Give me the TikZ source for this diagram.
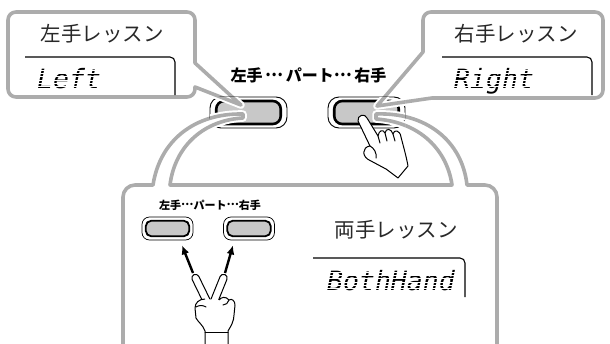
\documentclass[tikz,border=0pt]{standalone}
\usepackage{fontspec}
\usetikzlibrary{arrows.meta}
\newfontfamily\jpfont{Noto Sans CJK JP}
\newfontfamily\lcdfont{DejaVu Sans Mono}
\definecolor{framegray}{RGB}{172,172,172}
\definecolor{keygray}{RGB}{200,200,200}
\definecolor{inkgray}{RGB}{40,40,40}
% centred ellipsis between the part names
\newcommand\partdots{\raisebox{0.3em}{…}}

\begin{document}
\begin{tikzpicture}[x=1pt,y=1pt,
  frame/.style={draw=framegray,line width=3.6pt,line join=round},
  halo/.style={draw=white,line width=7.5pt,line join=round},
  lcdframe/.style={draw=black,line width=1.1pt,rounded corners=5pt},
  keyring/.style={draw=black,line width=0.9pt,fill=white,rounded corners=11pt,
    minimum width=77pt,minimum height=31pt,inner sep=0pt},
  keycap/.style={draw=black,line width=2.6pt,fill=keygray,rounded corners=8pt,
    minimum width=64.5pt,minimum height=23pt,inner sep=0pt},
  smallring/.style={draw=black,line width=0.7pt,fill=white,rounded corners=7.5pt,
    minimum width=51pt,minimum height=23pt,inner sep=0pt},
  smallcap/.style={draw=black,line width=1.8pt,fill=keygray,rounded corners=5.5pt,
    minimum width=43.5pt,minimum height=15.5pt,inner sep=0pt},
  title/.style={font=\jpfont\fontsize{20.5}{24}\selectfont,text=inkgray,inner sep=0pt},
  partlabel/.style={font=\jpfont\bfseries\fontsize{16}{19}\selectfont,inner sep=0pt},
  smalllabel/.style={font=\jpfont\bfseries\fontsize{11}{13}\selectfont,inner sep=0pt},
  lcd/.style={font=\lcdfont\itshape\fontsize{26.5}{30}\selectfont,text=black,
    inner sep=0pt,anchor=base west},
  dotgrid/.style={draw=white,line width=0.6pt},
  arr/.style={draw=black,line width=2.4pt,-{Latex[length=9pt,width=8pt]}},
  hand/.style={draw=black,line width=1pt,fill=white,line join=round},
  handline/.style={draw=black,line width=1pt,line cap=round}
]
\useasboundingbox (0,0) rectangle (610,-343);
\clip (0,0) rectangle (610,-343);

% lower panel, opening upward into both keys
\path[frame,fill=white]
  (123,-360) -- (123,-197) arc[start angle=180,end angle=90,radius=12]
  -- (153,-185) .. controls (160,-140) and (195,-113) .. (243,-114)
  -- (243,-118) .. controls (205,-120) and (175,-145) .. (170,-185)
  -- (452,-185) .. controls (447,-150) and (420,-122) .. (376,-119)
  -- (376,-114) .. controls (425,-112) and (462,-140) .. (467,-185)
  -- (485,-185) arc[start angle=90,end angle=0,radius=12] -- (497,-360);

% left-hand callout
\path[frame,fill=white]
  (16,-12) -- (187,-12) arc[start angle=90,end angle=0,radius=8]
  -- (195,-63) -- (241,-105) -- (195,-87)
  -- (195,-89) arc[start angle=0,end angle=-90,radius=8]
  -- (16,-97) arc[start angle=270,end angle=180,radius=8]
  -- (8,-20) arc[start angle=180,end angle=90,radius=8] -- cycle;

% right-hand callout
\path[frame,fill=white]
  (431,-12) -- (595,-12) arc[start angle=90,end angle=0,radius=8]
  -- (603,-90) arc[start angle=0,end angle=-90,radius=8]
  -- (432,-98) -- (377,-106) -- (423,-52)
  -- (423,-20) arc[start angle=180,end angle=90,radius=8] -- cycle;

% part keys
\node[keyring] (ringL) at (248.5,-112.5) {};
\node[keycap]  (keyL)  at (248.5,-112.5) {};
\node[keyring] (ringR) at (366.5,-112.5) {};
\node[keycap]  (keyR)  at (366.5,-112.5) {};

% pointer lines laid over the keys
\begin{scope}
  \clip (210,-97) rectangle (287,-128);
  \path[halo] (195,-63) -- (241,-105) -- (195,-87);
  \path[halo] (153,-185) .. controls (160,-140) and (195,-113) .. (243,-114)
     -- (243,-118) .. controls (205,-120) and (175,-145) .. (170,-185);
  \path[frame] (195,-63) -- (241,-105) -- (195,-87);
  \path[frame] (153,-185) .. controls (160,-140) and (195,-113) .. (243,-114)
     -- (243,-118) .. controls (205,-120) and (175,-145) .. (170,-185);
\end{scope}
\begin{scope}
  \clip (328,-97) rectangle (405,-128);
  \path[halo] (432,-98) -- (377,-106) -- (423,-52);
  \path[halo] (452,-185) .. controls (447,-150) and (420,-122) .. (376,-119)
     -- (376,-114) .. controls (425,-112) and (462,-140) .. (467,-185);
  \path[frame] (432,-98) -- (377,-106) -- (423,-52);
  \path[frame] (452,-185) .. controls (447,-150) and (420,-122) .. (376,-119)
     -- (376,-114) .. controls (425,-112) and (462,-140) .. (467,-185);
\end{scope}

% pointing hand pressing the right key
\path[hand]
  (386,-169) -- (398,-178) -- (408,-166)
  .. controls (406,-155) and (403,-145) .. (401,-137)
  .. controls (400,-130) and (394,-129) .. (393,-134)
  .. controls (391,-128) and (386,-128) .. (385,-133)
  .. controls (383,-129) and (379,-130) .. (378,-136)
  -- (367,-118)
  .. controls (365,-113) and (357,-115) .. (358,-121)
  -- (370,-146)
  .. controls (362,-147) and (361,-157) .. (371,-161)
  -- cycle;
\draw[handline] (385,-133) -- (387,-141);
\draw[handline] (393,-134) -- (395,-141);
\draw[handline] (378,-136) -- (380,-143);
\draw[handline] (370,-146) .. controls (374,-148) and (377,-153) .. (376,-158);

% titles and displays
\node[title] (titleL) at (102,-33.5) {左手レッスン};
\node[title] (titleR) at (516,-33.5) {右手レッスン};
\node[title] (titleB) at (396,-229.5) {両手レッスン};
\draw[lcdframe] (25,-57) -- (175,-57) -- (175,-95);
\draw[lcdframe] (442,-57) -- (592,-57) -- (592,-95);
\draw[lcdframe] (313,-258) -- (465,-258) -- (465,-297);
\node[lcd] (lcdL) at (37,-88) {Left};
\node[lcd] (lcdR) at (454,-88) {Right};
\node[lcd] (lcdB) at (327,-290) {BothHand};

% dot-matrix segmentation of the display characters
\foreach \bx/\ex/\by in {33/110/-88, 450/545/-88, 323/460/-290}{
  \foreach \k in {0,...,8}{
    \draw[dotgrid] (\bx,\by+1.6+3.3*\k) -- (\ex,\by+1.6+3.3*\k);
  }
}

\node[partlabel] (partTop) at (308.5,-75.5) {左手\,\partdots\,パート\partdots\,右手};

% both keys inside the lower panel
\node[smalllabel] (partSmall) at (210,-205) {左手\partdots パート\partdots 右手};
\node[smallring] (sringL) at (167.5,-228.5) {};
\node[smallcap]  (skeyL)  at (167.5,-228.5) {};
\node[smallring] (sringR) at (249,-228.5) {};
\node[smallcap]  (skeyR)  at (249,-228.5) {};

\coordinate (tipIndex)  at (193,-273);
\coordinate (tipMiddle) at (225,-273);
\draw[arr] (tipIndex)  -- ([xshift=14.5pt,yshift=-5pt]sringL.south);
\draw[arr] (tipMiddle) -- ([xshift=-16pt,yshift=-5pt]sringR.south);

% V-sign hand
\begin{scope}[shift={(195.5,-278)},rotate=-64]
  \path[hand] (30,-3.7) -- (0,-3.7) arc[start angle=-90,end angle=-270,radius=3.7] -- (30,3.7);
\end{scope}
\begin{scope}[shift={(223.5,-278)},rotate=-112]
  \path[hand] (30,-3.7) -- (0,-3.7) arc[start angle=-90,end angle=-270,radius=3.7] -- (30,3.7);
\end{scope}
\path[hand]
  (205,-299) .. controls (199,-299) and (195,-303) .. (195,-308)
  -- (196,-318) .. controls (198,-322) and (203,-325) .. (205,-331)
  -- (205,-350) -- (228,-350) -- (228,-331)
  .. controls (231,-326) and (234,-321) .. (234,-315)
  -- (235,-305) .. controls (235,-301) and (232,-298) .. (229,-300)
  .. controls (226,-296) and (221,-297) .. (219,-300);
\draw[handline] (229,-300) .. controls (228,-303) and (226,-305) .. (223,-305);
\draw[handline] (205,-332) -- (228,-332);
\draw[handline] (196,-307) .. controls (199,-305) and (203,-305) .. (206,-307);
\end{tikzpicture}
\end{document}
